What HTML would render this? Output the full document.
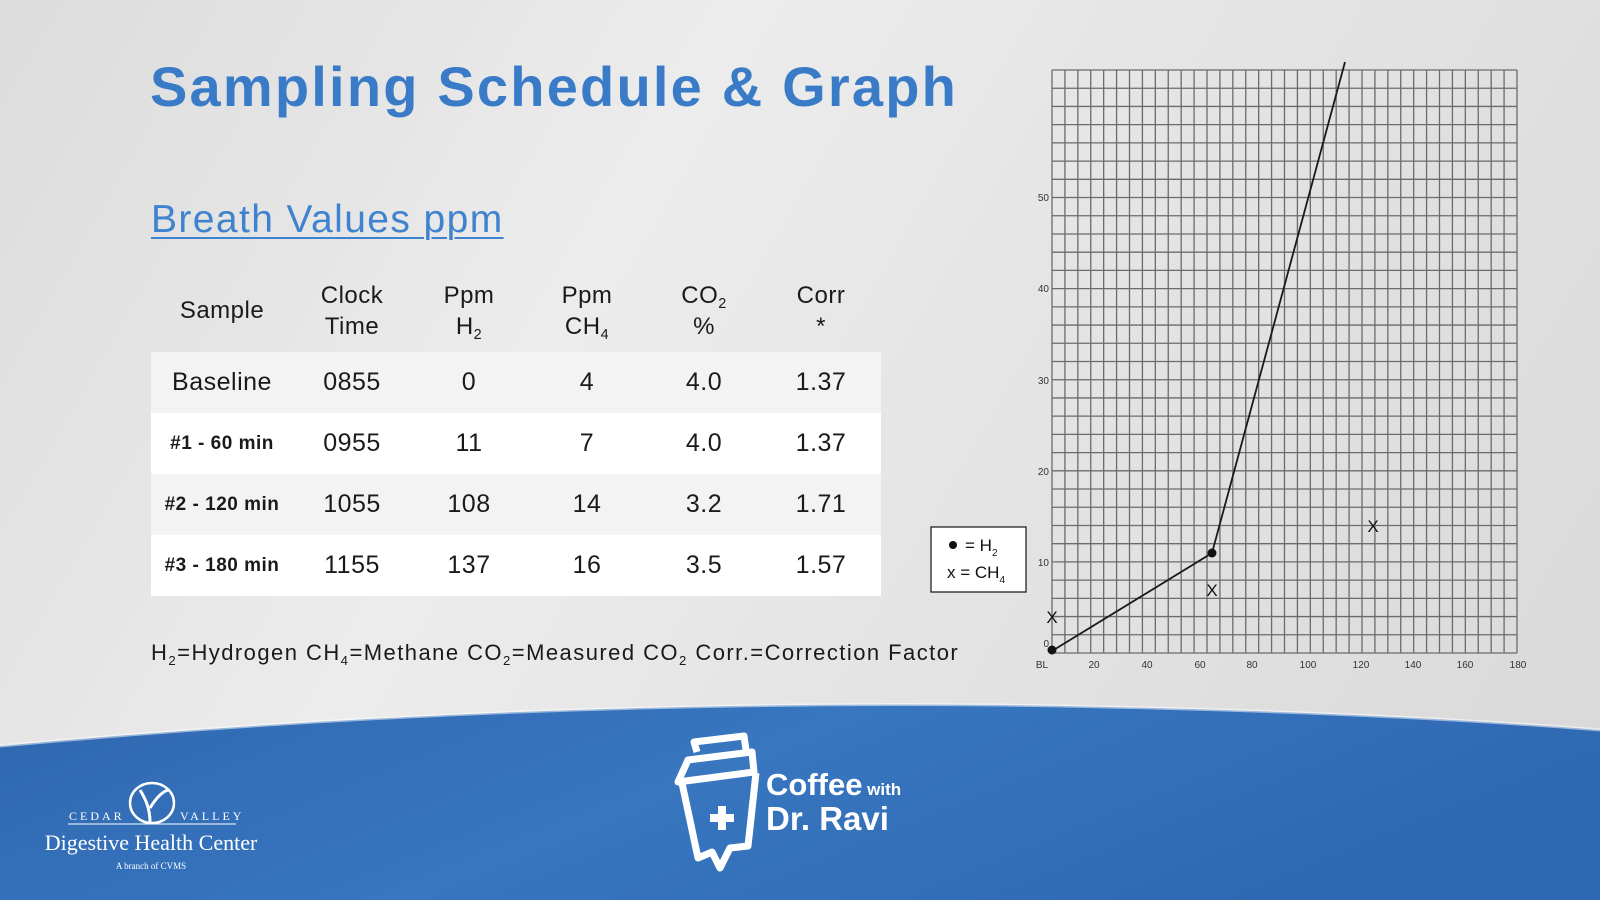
<!DOCTYPE html>
<html><head><meta charset="utf-8"><style>
html,body{margin:0;padding:0;}
body{width:1600px;height:900px;overflow:hidden;position:relative;font-family:"Liberation Sans",sans-serif;background:linear-gradient(120deg,#dcdcdc 0%,#ececec 35%,#e4e4e4 60%,#d8d8d8 100%);}
.abs{position:absolute;}
h1{position:absolute;left:150px;top:54px;margin:0;font-size:56px;font-weight:bold;color:#3a7bc8;letter-spacing:2.2px;white-space:nowrap;}
.sub{left:151px;top:198px;font-size:39px;color:#3f82cf;letter-spacing:1.4px;text-decoration:underline;text-decoration-thickness:2px;text-underline-offset:5px;}
.tbl{left:151px;top:280px;width:730px;}
.hdr{position:absolute;top:0;height:70px;width:730px;}
.row{position:absolute;left:0;width:730px;height:61px;}
.c{position:absolute;transform:translateX(-50%);text-align:center;color:#1a1a1a;white-space:nowrap;}
.hdr .c{font-size:24px;line-height:31px;letter-spacing:0.5px;}
.row .c{font-size:25px;line-height:61px;top:0;letter-spacing:0.5px;}
.row .c.s{font-size:19px;font-weight:bold;}
sub{font-size:60%;vertical-align:-5px;line-height:0;}
.foot{left:151px;top:640px;font-size:22px;color:#1a1a1a;white-space:nowrap;letter-spacing:1.45px;}
</style></head><body>
<svg class="abs" style="left:0;top:0" width="1600" height="900" viewBox="0 0 1600 900">
<defs>
<linearGradient id="bl" x1="0" y1="0" x2="1" y2="0.3">
<stop offset="0" stop-color="#2f67b0"/><stop offset="0.5" stop-color="#3876c0"/><stop offset="1" stop-color="#2f68b2"/></linearGradient>
</defs>
<path d="M0,746 Q500,700 1000,705 Q1350,710 1600,730 L1600,900 L0,900 Z" fill="url(#bl)"/>
<path d="M0,746 Q500,700 1000,705 Q1350,710 1600,730" fill="none" stroke="#fff" stroke-opacity="0.5" stroke-width="3"/>
<g stroke="#6b6b6b" stroke-width="1.3" fill="none" id="grid"></g>
<g font-size="10" fill="#333" font-family="Liberation Sans" text-anchor="end">
<text x="1049" y="647">0</text><text x="1049" y="566">10</text><text x="1049" y="475">20</text><text x="1049" y="384">30</text><text x="1049" y="292">40</text><text x="1049" y="201">50</text>
</g>
<g font-size="10" fill="#333" font-family="Liberation Sans" text-anchor="middle">
<text x="1042" y="668">BL</text><text x="1094" y="668">20</text><text x="1147" y="668">40</text><text x="1200" y="668">60</text><text x="1252" y="668">80</text><text x="1308" y="668">100</text><text x="1361" y="668">120</text><text x="1413" y="668">140</text><text x="1465" y="668">160</text><text x="1518" y="668">180</text>
</g>
<polyline points="1052,651 1212,553 1345,62" fill="none" stroke="#1a1a1a" stroke-width="1.8"/>
<circle cx="1052" cy="650" r="4.5" fill="#111"/><circle cx="1212" cy="553" r="4.5" fill="#111"/>
<g font-size="17" fill="#111" text-anchor="middle" font-family="Liberation Sans">
<text x="1052" y="623">X</text><text x="1212" y="596">X</text><text x="1373" y="532">X</text></g>
<rect x="931" y="527" width="95" height="65" fill="#fff" stroke="#222" stroke-width="1.3"/>
<circle cx="953" cy="545" r="4" fill="#111"/>
<text x="965" y="551" font-size="17" fill="#111" font-family="Liberation Sans">= H<tspan font-size="10" dy="5">2</tspan></text>
<text x="947" y="578" font-size="17" fill="#111" font-family="Liberation Sans">x = CH<tspan font-size="10" dy="5">4</tspan></text>
<g fill="none" stroke="#fff" stroke-width="7" stroke-linejoin="round">
<path d="M688,760 L752,752 L754,772 L678,782 Z"/>
<path d="M682,783 L698,858 L712,852 L720,868 L730,848 L748,846 L756,773"/>
<path d="M697,752 L694,742 L744,736 L746,750"/>
</g>
<path d="M718,806h8v8h8v8h-8v8h-8v-8h-8v-8h8z" fill="#fff"/>
<text x="766" y="795" font-size="31" font-weight="bold" fill="#fff" font-family="Liberation Sans">Coffee<tspan font-size="17"> with</tspan></text>
<text x="766" y="830" font-size="33" font-weight="bold" fill="#fff" font-family="Liberation Sans">Dr. Ravi</text>
<g fill="none" stroke="#fff" stroke-width="2.5"><ellipse cx="152" cy="803" rx="22" ry="20"/></g>
<path d="M150,822 C150,808 145,798 140,790 M150,808 C156,798 162,792 168,790" stroke="#fff" stroke-width="3" fill="none"/>
<text x="69" y="820" font-size="12" fill="#fff" font-family="Liberation Serif" letter-spacing="3">CEDAR</text>
<text x="180" y="820" font-size="12" fill="#fff" font-family="Liberation Serif" letter-spacing="3">VALLEY</text>
<line x1="68" y1="824" x2="236" y2="824" stroke="#fff" stroke-width="1"/>
<text x="151" y="850" font-size="22" fill="#fff" font-family="Liberation Serif" text-anchor="middle">Digestive Health Center</text>
<text x="151" y="869" font-size="9" fill="#fff" font-family="Liberation Serif" text-anchor="middle">A branch of CVMS</text>
</svg>
<script>
(function(){var g=document.getElementById('grid');var s='';
var L=1052,R=1517,T=70,B=653;
for(var i=0;i<=36;i++){var x=L+(R-L)*i/36;s+='<line x1="'+x+'" y1="'+T+'" x2="'+x+'" y2="'+B+'"/>';}
for(var j=0;j<=32;j++){var y=T+(B-T)*j/32;s+='<line x1="'+L+'" y1="'+y+'" x2="'+R+'" y2="'+y+'"/>';}
g.innerHTML=s;})();
</script>
<h1>Sampling Schedule &amp; Graph</h1>
<div class="abs sub">Breath Values ppm</div>
<div class="abs tbl">
<div class="hdr">
<div class="c" style="left:71px;top:15px">Sample</div>
<div class="c" style="left:201px">Clock<br>Time</div>
<div class="c" style="left:318px">Ppm<br>H<sub>2</sub></div>
<div class="c" style="left:436px">Ppm<br>CH<sub>4</sub></div>
<div class="c" style="left:553px">CO<sub>2</sub><br>%</div>
<div class="c" style="left:670px">Corr<br>*</div>
</div>
<div class="row" style="top:72px;background:#f3f3f3">
<div class="c" style="left:71px">Baseline</div><div class="c" style="left:201px">0855</div><div class="c" style="left:318px">0</div><div class="c" style="left:436px">4</div><div class="c" style="left:553px">4.0</div><div class="c" style="left:670px">1.37</div></div>
<div class="row" style="top:133px;background:#fff">
<div class="c s" style="left:71px">#1 - 60 min</div><div class="c" style="left:201px">0955</div><div class="c" style="left:318px">11</div><div class="c" style="left:436px">7</div><div class="c" style="left:553px">4.0</div><div class="c" style="left:670px">1.37</div></div>
<div class="row" style="top:194px;background:#f3f3f3">
<div class="c s" style="left:71px">#2 - 120 min</div><div class="c" style="left:201px">1055</div><div class="c" style="left:318px">108</div><div class="c" style="left:436px">14</div><div class="c" style="left:553px">3.2</div><div class="c" style="left:670px">1.71</div></div>
<div class="row" style="top:255px;background:#fff">
<div class="c s" style="left:71px">#3 - 180 min</div><div class="c" style="left:201px">1155</div><div class="c" style="left:318px">137</div><div class="c" style="left:436px">16</div><div class="c" style="left:553px">3.5</div><div class="c" style="left:670px">1.57</div></div>
</div>
<div class="abs foot">H<sub>2</sub>=Hydrogen CH<sub>4</sub>=Methane CO<sub>2</sub>=Measured CO<sub>2</sub> Corr.=Correction Factor</div>
</body></html>
